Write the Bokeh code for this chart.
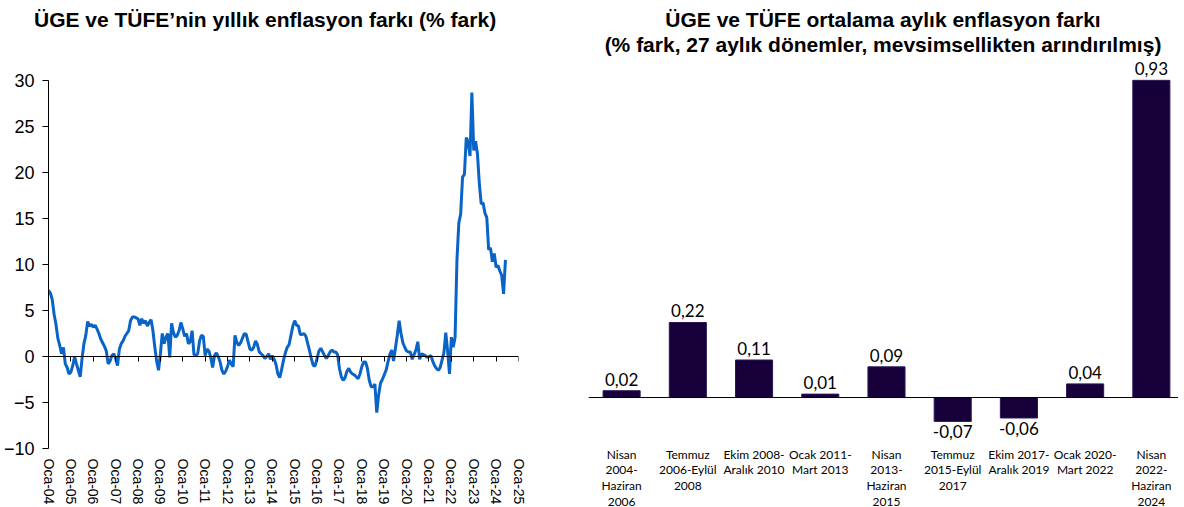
from bokeh.plotting import figure
from bokeh.models import Range1d, FixedTicker, LinearAxis, Span, ColumnDataSource, LabelSet, Div
from bokeh.core.properties import value
from bokeh.layouts import row, column
from bokeh.embed import file_html
from bokeh.resources import INLINE

# ---------------- Left chart data (monthly, Jan 2004 - Jun 2024) ----------------
y2004 = [7.2, 6.9, 6.2, 4.6, 3.5, 2.0, 1.2, 0.3, 1.0, -0.8, -1.2, -1.9]
y2005 = [-1.7, -1.0, 0.0, -0.8, -1.5, -2.2, -0.2, 1.4, 2.3, 3.8, 3.3, 3.5]
y2006 = [3.2, 3.4, 3.0, 2.5, 1.9, 1.5, 1.1, 0.6, -0.8, -0.5, 0.1, 0.3]
y2007 = [-0.2, -1.0, 0.8, 1.4, 1.7, 2.2, 2.5, 2.8, 3.9, 4.3, 4.3, 4.2]
y2008 = [4.1, 3.4, 4.1, 3.6, 3.9, 3.3, 3.7, 4.0, 2.8, 1.0, -0.5, -1.5]
y2009 = [0.3, 2.5, 1.4, 2.1, 2.5, -0.1, 3.6, 2.6, 2.1, 2.3, 2.8, 3.7]
y2010 = [3.0, 2.2, 2.5, 1.4, 1.6, 2.8, 0.2, 0.1, 0.3, 1.7, 2.3, 2.2]
y2011 = [0.1, 0.8, 0.6, -0.1, -1.2, 0.1, 0.4, 0.0, -0.6, -1.5, -1.9, -1.6]
y2012 = [-1.1, -0.4, -0.8, -1.1, 2.3, 1.5, 1.2, 1.5, 2.0, 2.5, 2.4, 1.6]
y2013 = [0.8, 0.7, 1.0, 1.7, 1.3, 0.5, 0.3, 0.1, -0.2, 0.0, 0.3, -0.3]
y2014 = [0.1, -0.3, -0.9, -1.9, -2.3, -1.4, -0.4, 0.4, 1.0, 1.3, 2.3, 3.3]
y2015 = [3.9, 3.4, 3.3, 2.4, 2.4, 2.5, 2.2, 1.4, 0.6, -0.3, -1.0, -1.0]
y2016 = [-0.2, 0.6, 0.9, 0.5, 0.1, -0.2, 0.1, 0.5, 0.7, 0.5, 0.5, 0.2]
y2017 = [-1.3, -2.2, -2.6, -2.3, -1.6, -1.3, -1.7, -1.9, -2.0, -2.2, -2.4, -1.9]
y2018 = [-1.1, -0.6, -0.6, -1.3, -2.6, -3.3, -3.3, -3.0, -6.1, -4.2, -2.9, -2.5]
y2019 = [-2.0, -1.5, -0.6, 0.2, 0.7, -0.5, 0.9, 2.3, 3.9, 2.5, 1.5, 1.0]
y2020 = [0.6, 0.5, 0.5, -0.3, 0.2, 0.7, 1.6, -0.3, 0.3, 0.2, 0.1, -0.1]
y2021 = [0.0, 0.1, -0.5, -1.0, -1.3, -1.5, -1.2, -0.4, 0.4, 2.6, 0.6, -1.9]
y2022 = [2.1, 1.0, 2.1, 10.5, 14.5, 15.5, 19.5, 19.8, 23.8, 23.3, 21.8, 28.7]
y2023 = [22.4, 23.4, 22.0, 18.8, 16.6, 16.7, 15.6, 15.1, 11.6, 11.8, 10.3, 11.2]
y2024 = [9.7, 9.9, 9.3, 8.8, 6.8, 10.5]

x_tick_labels = ["Oca-04", "Oca-05", "Oca-06", "Oca-07", "Oca-08", "Oca-09", "Oca-10",
                 "Oca-11", "Oca-12", "Oca-13", "Oca-14", "Oca-15", "Oca-16", "Oca-17",
                 "Oca-18", "Oca-19", "Oca-20", "Oca-21", "Oca-22", "Oca-23", "Oca-24", "Oca-25"]
y_ticks = [-10, -5, 0, 5, 10, 15, 20, 25, 30]
left_title = "ÜGE ve TÜFE’nin yıllık enflasyon farkı (% fark)"

# ---------------- Right chart data ----------------
periods = ["Nisan\n2004-\nHaziran\n2006", "Temmuz\n2006-Eylül\n2008", "Ekim 2008-\nAralık 2010",
           "Ocak 2011-\nMart 2013", "Nisan\n2013-\nHaziran\n2015", "Temmuz\n2015-Eylül\n2017",
           "Ekim 2017-\nAralık 2019", "Ocak 2020-\nMart 2022", "Nisan\n2022-\nHaziran\n2024"]
gap_values = [0.02, 0.22, 0.11, 0.01, 0.09, -0.07, -0.06, 0.04, 0.93]
right_title_1 = "ÜGE ve TÜFE ortalama aylık enflasyon farkı"
right_title_2 = "(% fark, 27 aylık dönemler, mevsimsellikten arındırılmış)"

AR = "Liberation Sans"
TSTYLE = ("font-family:'Liberation Sans'; font-size:21px; font-weight:bold; color:black; "
          "line-height:25px; white-space:nowrap; margin:0;")

# ================= Left figure =================
series = (y2004 + y2005 + y2006 + y2007 + y2008 + y2009 + y2010 + y2011 + y2012 + y2013 +
          y2014 + y2015 + y2016 + y2017 + y2018 + y2019 + y2020 + y2021 + y2022 + y2023 + y2024)
months = list(range(len(series)))
year_ticks = [12 * i for i in range(len(x_tick_labels))]

div1 = Div(text=f'<div style="{TSTYLE} padding-left:29px; padding-top:2px;">{left_title}</div>',
           width=568, height=40)

p1 = figure(frame_width=470, frame_height=368, title=None,
            x_range=Range1d(0, year_ticks[-1]), y_range=Range1d(-10, 30),
            output_backend="svg", toolbar_location=None,
            min_border_left=40, min_border_right=58, min_border_top=30, min_border_bottom=51)
p1.outline_line_color = None
p1.grid.visible = False
p1.background_fill_color = "white"
p1.border_fill_color = "white"

p1.line(months, series, line_color="#0a64c8", line_width=3)

p1.yaxis.ticker = FixedTicker(ticks=y_ticks)
p1.yaxis.major_label_text_font = AR
p1.yaxis.major_label_text_font_size = "18px"
p1.yaxis.major_label_text_color = "black"
p1.yaxis.axis_line_color = "black"
p1.yaxis.major_tick_line_color = "black"
p1.yaxis.major_tick_out = 6
p1.yaxis.major_tick_in = 0
p1.yaxis.minor_tick_line_color = None
p1.yaxis.major_label_standoff = 8

p1.xaxis.ticker = FixedTicker(ticks=year_ticks)
p1.xaxis.major_label_overrides = {t: lab for t, lab in zip(year_ticks, x_tick_labels)}
p1.xaxis.major_label_orientation = "vertical"
p1.xaxis.major_label_text_font = AR
p1.xaxis.major_label_text_font_size = "14px"
p1.xaxis.major_label_text_color = "black"
p1.xaxis.axis_line_color = None
p1.xaxis.major_tick_line_color = None
p1.xaxis.minor_tick_line_color = None
p1.xaxis.major_label_standoff = 4

zero_axis = LinearAxis(fixed_location=0, ticker=FixedTicker(ticks=year_ticks),
                       major_label_overrides={t: "" for t in year_ticks},
                       axis_line_color="black", major_tick_line_color="black",
                       major_tick_in=5, major_tick_out=0, minor_tick_line_color=None,
                       major_label_standoff=0)
p1.add_layout(zero_axis, "above")

# ================= Right figure =================
xs = list(range(len(periods)))
div2 = Div(text=(f'<div style="{TSTYLE} text-align:center; padding-top:2px; width:600px;">'
                 f'{right_title_1}<br>{right_title_2}</div>'),
           width=600, height=48)

p2 = figure(frame_width=590, frame_height=382, title=None,
            x_range=Range1d(-0.5, 8.41), y_range=Range1d(-0.126, 0.994),
            y_axis_location=None,
            output_backend="svg", toolbar_location=None,
            min_border_left=10, min_border_right=0, min_border_top=0, min_border_bottom=60)
p2.outline_line_color = None
p2.grid.visible = False
p2.background_fill_color = "white"
p2.border_fill_color = "white"

p2.vbar(x=xs, top=gap_values, width=0.56, fill_color="#17003a", line_color="#2a1858", line_width=1)
p2.add_layout(Span(location=0, dimension="width", line_color="black", line_width=1))

p2.xaxis.ticker = FixedTicker(ticks=xs)
p2.xaxis.major_label_overrides = {i: lab for i, lab in zip(xs, periods)}
p2.xaxis.major_label_text_font = "Lato"
p2.xaxis.major_label_text_font_size = "12px"
p2.xaxis.major_label_text_color = "black"
p2.xaxis.major_label_text_line_height = 1.05
p2.xaxis.axis_line_color = None
p2.xaxis.major_tick_line_color = None
p2.xaxis.minor_tick_line_color = None
p2.xaxis.major_label_standoff = 0

fmt = [f"{v:.2f}".replace(".", ",") for v in gap_values]
pos = ColumnDataSource(dict(x=[x for x, v in zip(xs, gap_values) if v >= 0],
                            y=[v for v in gap_values if v >= 0],
                            t=[f for f, v in zip(fmt, gap_values) if v >= 0]))
neg = ColumnDataSource(dict(x=[x for x, v in zip(xs, gap_values) if v < 0],
                            y=[v for v in gap_values if v < 0],
                            t=[f for f, v in zip(fmt, gap_values) if v < 0]))
p2.add_layout(LabelSet(x="x", y="y", text="t", source=pos, text_align="center",
                       text_baseline="bottom", y_offset=5, text_font=value("Lato"),
                       text_font_size=value("17px"), text_color="black"))
p2.add_layout(LabelSet(x="x", y="y", text="t", source=neg, text_align="center",
                       text_baseline="top", y_offset=-4, text_font=value("Lato"),
                       text_font_size=value("17px"), text_color="black"))

layout = row(column(div1, p1), column(div2, p2))
open("out.html", "w").write(file_html(layout, INLINE))
